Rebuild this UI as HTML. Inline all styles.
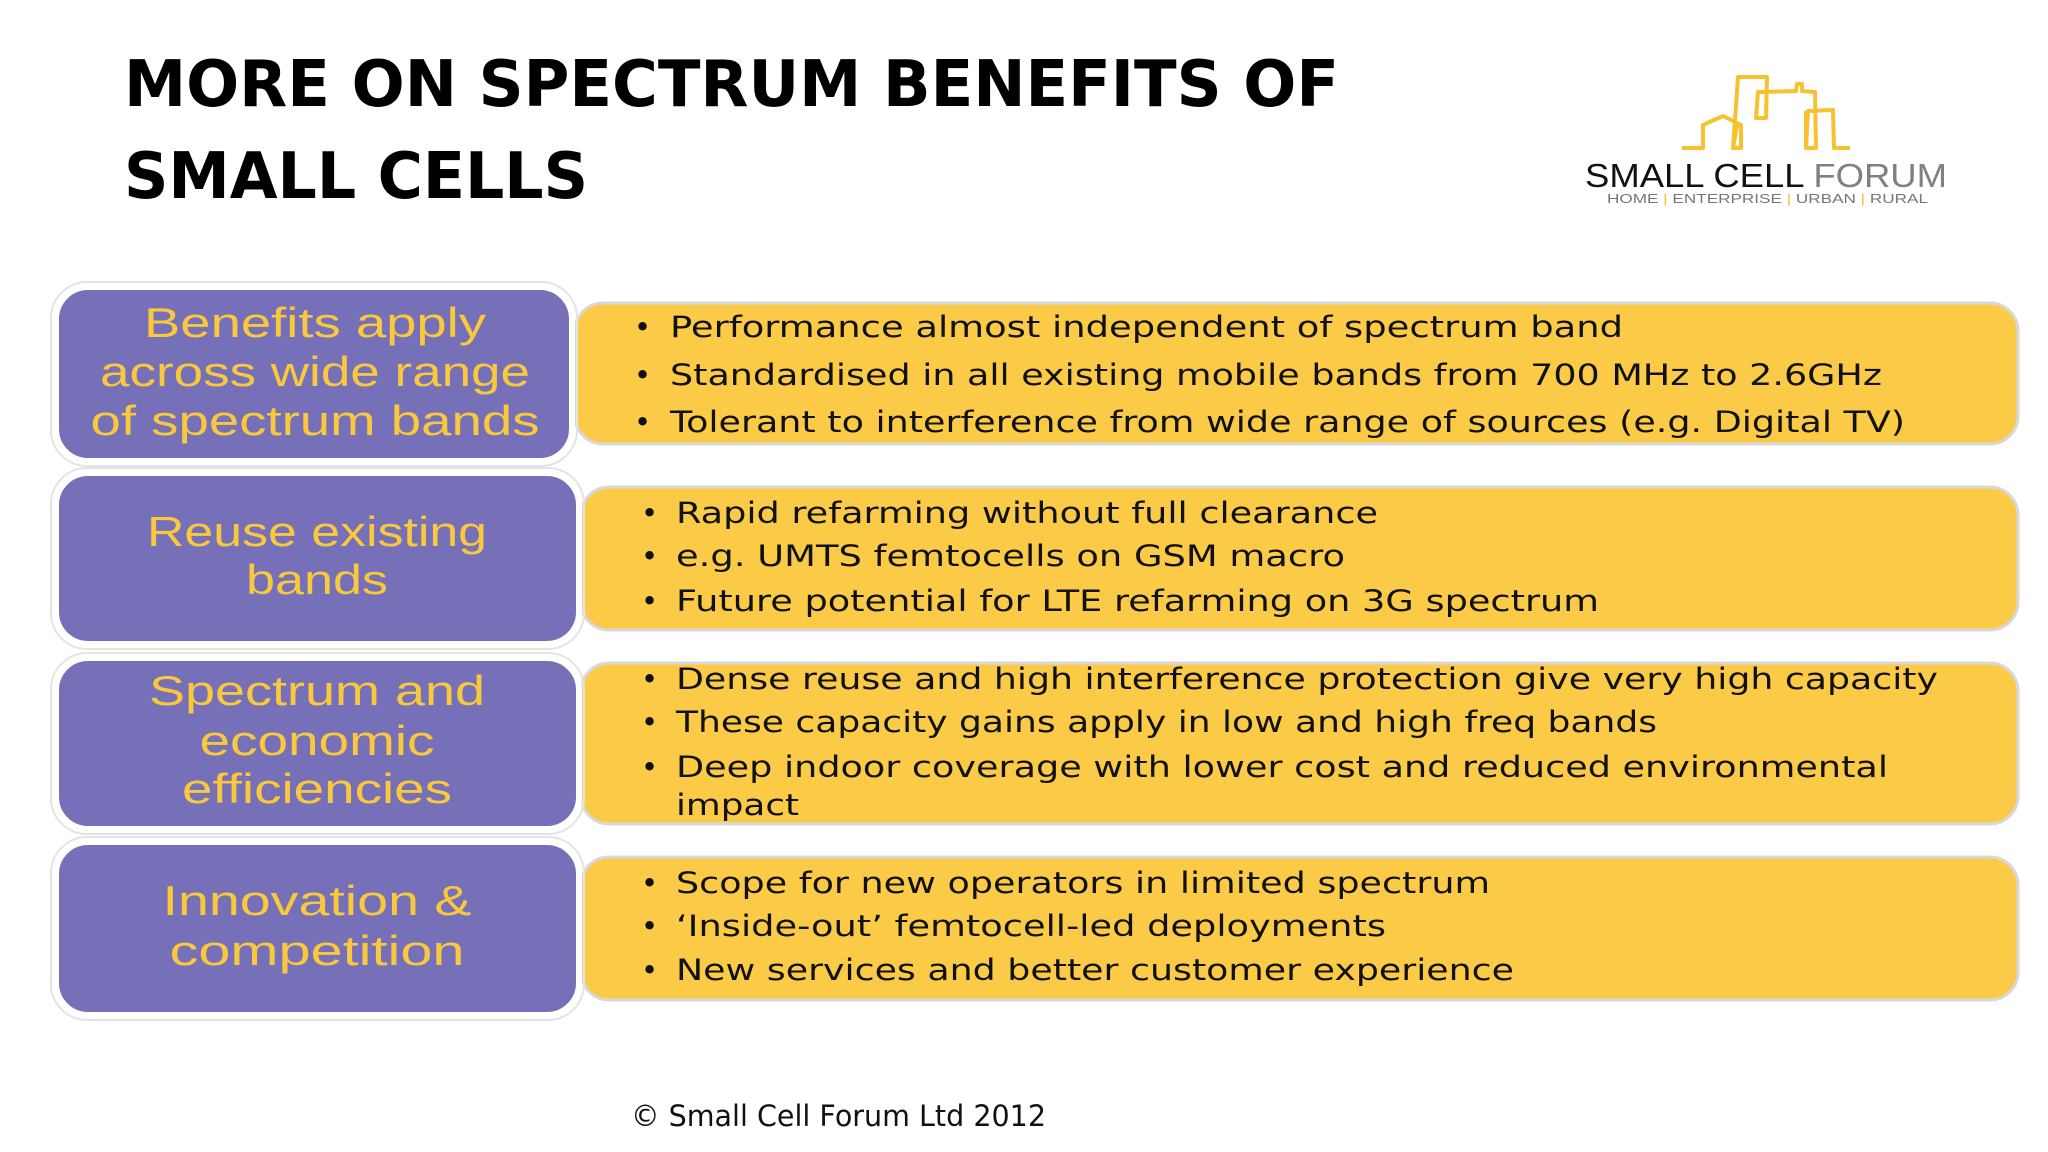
<!DOCTYPE html>
<html><head><meta charset="utf-8"><style>
html,body{margin:0;padding:0;background:#fff;width:2048px;height:1152px;overflow:hidden}
svg{display:block}
.t{font-family:"DejaVu Sans",Verdana,sans-serif;font-weight:bold;font-size:64px;fill:#000}
.p{font-family:"Liberation Sans","DejaVu Sans",sans-serif;font-size:42px;fill:#f9c83c;text-anchor:middle}
.b{font-family:"DejaVu Sans",Verdana,sans-serif;font-size:29px;fill:#111}
</style></head><body>
<svg width="2048" height="1152" viewBox="0 0 2048 1152" xmlns="http://www.w3.org/2000/svg">
<text class="t" x="124" y="106" textLength="1215" lengthAdjust="spacingAndGlyphs">MORE ON SPECTRUM BENEFITS OF</text>
<text class="t" x="124" y="198" textLength="464" lengthAdjust="spacingAndGlyphs">SMALL CELLS</text>

<g fill="none" stroke="#f7c12f" stroke-width="4" stroke-linejoin="round">
<polyline points="1682,148 1703,148 1703,125 1723,116 1741,125 1741,148 1733,148 1737,125 1733,148"/>
<polyline points="1733,148 1738,77 1767,77 1766,118 1756,118 1758,92 1796,91 1797,84 1802,84 1802,91 1815,92 1816,148 1806,148 1808,111 1833,110 1834,148 1850,148"/>
<polyline points="1806,148 1806,111"/>
</g>
<text x="1585" y="187" font-family="Liberation Sans,sans-serif" font-size="33" fill="#111" textLength="362" lengthAdjust="spacingAndGlyphs">SMALL CELL <tspan fill="#808080">FORUM</tspan></text>
<text x="1607" y="203" font-family="Liberation Sans,sans-serif" font-size="13" fill="#777" textLength="321" lengthAdjust="spacingAndGlyphs">HOME <tspan fill="#f7c12f">|</tspan> ENTERPRISE <tspan fill="#f7c12f">|</tspan> URBAN <tspan fill="#f7c12f">|</tspan> RURAL</text>

<!-- Row 1 -->
<g>
<rect x="575" y="303" width="1443" height="141" rx="28" fill="#fbcb47" stroke="#d8d8d8" stroke-width="3"/>
<rect x="56" y="287" width="516" height="174" rx="32" fill="#7670b8" stroke="#fff" stroke-width="6"/>
<rect x="51" y="282" width="526" height="184" rx="36" fill="none" stroke="#e4e4e4" stroke-width="2"/>
<text class="p" x="315" y="337" textLength="342" lengthAdjust="spacingAndGlyphs">Benefits apply</text>
<text class="p" x="315" y="386" textLength="430" lengthAdjust="spacingAndGlyphs">across wide range</text>
<text class="p" x="315" y="435" textLength="449" lengthAdjust="spacingAndGlyphs">of spectrum bands</text>
<text class="b" x="634" y="337">•</text><text class="b" x="670" y="337" textLength="953" lengthAdjust="spacingAndGlyphs">Performance almost independent of spectrum band</text>
<text class="b" x="634" y="385">•</text><text class="b" x="670" y="385" textLength="1212" lengthAdjust="spacingAndGlyphs">Standardised in all existing mobile bands from 700 MHz to 2.6GHz</text>
<text class="b" x="634" y="432">•</text><text class="b" x="670" y="432" textLength="1235" lengthAdjust="spacingAndGlyphs">Tolerant to interference from wide range of sources (e.g. Digital TV)</text>
</g>

<!-- Row 2 -->
<g>
<rect x="581" y="487" width="1437" height="143" rx="28" fill="#fbcb47" stroke="#d8d8d8" stroke-width="3"/>
<rect x="56" y="473" width="523" height="171" rx="32" fill="#7670b8" stroke="#fff" stroke-width="6"/>
<rect x="51" y="468" width="533" height="181" rx="36" fill="none" stroke="#e4e4e4" stroke-width="2"/>
<text class="p" x="317" y="546" textLength="340" lengthAdjust="spacingAndGlyphs">Reuse existing</text>
<text class="p" x="317" y="594" textLength="142" lengthAdjust="spacingAndGlyphs">bands</text>
<text class="b" x="641" y="523">•</text><text class="b" x="676" y="523" textLength="702" lengthAdjust="spacingAndGlyphs">Rapid refarming without full clearance</text>
<text class="b" x="641" y="566">•</text><text class="b" x="676" y="566" textLength="669" lengthAdjust="spacingAndGlyphs">e.g. UMTS femtocells on GSM macro</text>
<text class="b" x="641" y="611">•</text><text class="b" x="676" y="611" textLength="923" lengthAdjust="spacingAndGlyphs">Future potential for LTE refarming on 3G spectrum</text>
</g>

<!-- Row 3 -->
<g>
<rect x="581" y="663" width="1437" height="161" rx="28" fill="#fbcb47" stroke="#d8d8d8" stroke-width="3"/>
<rect x="56" y="658" width="523" height="171" rx="32" fill="#7670b8" stroke="#fff" stroke-width="6"/>
<rect x="51" y="653" width="533" height="181" rx="36" fill="none" stroke="#e4e4e4" stroke-width="2"/>
<text class="p" x="317" y="705" textLength="336" lengthAdjust="spacingAndGlyphs">Spectrum and</text>
<text class="p" x="317" y="755" textLength="235" lengthAdjust="spacingAndGlyphs">economic</text>
<text class="p" x="317" y="803" textLength="270" lengthAdjust="spacingAndGlyphs">efficiencies</text>
<text class="b" x="641" y="689">•</text><text class="b" x="676" y="689" textLength="1262" lengthAdjust="spacingAndGlyphs">Dense reuse and high interference protection give very high capacity</text>
<text class="b" x="641" y="732">•</text><text class="b" x="676" y="732" textLength="981" lengthAdjust="spacingAndGlyphs">These capacity gains apply in low and high freq bands</text>
<text class="b" x="641" y="777">•</text><text class="b" x="676" y="777" textLength="1212" lengthAdjust="spacingAndGlyphs">Deep indoor coverage with lower cost and reduced environmental</text>
<text class="b" x="676" y="815" textLength="123" lengthAdjust="spacingAndGlyphs">impact</text>
</g>

<!-- Row 4 -->
<g>
<rect x="581" y="857" width="1437" height="143" rx="28" fill="#fbcb47" stroke="#d8d8d8" stroke-width="3"/>
<rect x="56" y="842" width="523" height="173" rx="32" fill="#7670b8" stroke="#fff" stroke-width="6"/>
<rect x="51" y="837" width="533" height="183" rx="36" fill="none" stroke="#e4e4e4" stroke-width="2"/>
<text class="p" x="317" y="915" textLength="309" lengthAdjust="spacingAndGlyphs">Innovation &amp;</text>
<text class="p" x="317" y="965" textLength="295" lengthAdjust="spacingAndGlyphs">competition</text>
<text class="b" x="641" y="893">•</text><text class="b" x="676" y="893" textLength="814" lengthAdjust="spacingAndGlyphs">Scope for new operators in limited spectrum</text>
<text class="b" x="641" y="936">•</text><text class="b" x="676" y="936" textLength="710" lengthAdjust="spacingAndGlyphs">‘Inside-out’ femtocell-led deployments</text>
<text class="b" x="641" y="980">•</text><text class="b" x="676" y="980" textLength="838" lengthAdjust="spacingAndGlyphs">New services and better customer experience</text>
</g>

<text x="631" y="1126" font-family="DejaVu Sans,Verdana,sans-serif" font-size="29" fill="#111" textLength="415" lengthAdjust="spacingAndGlyphs">© Small Cell Forum Ltd 2012</text>
</svg>
</body></html>
